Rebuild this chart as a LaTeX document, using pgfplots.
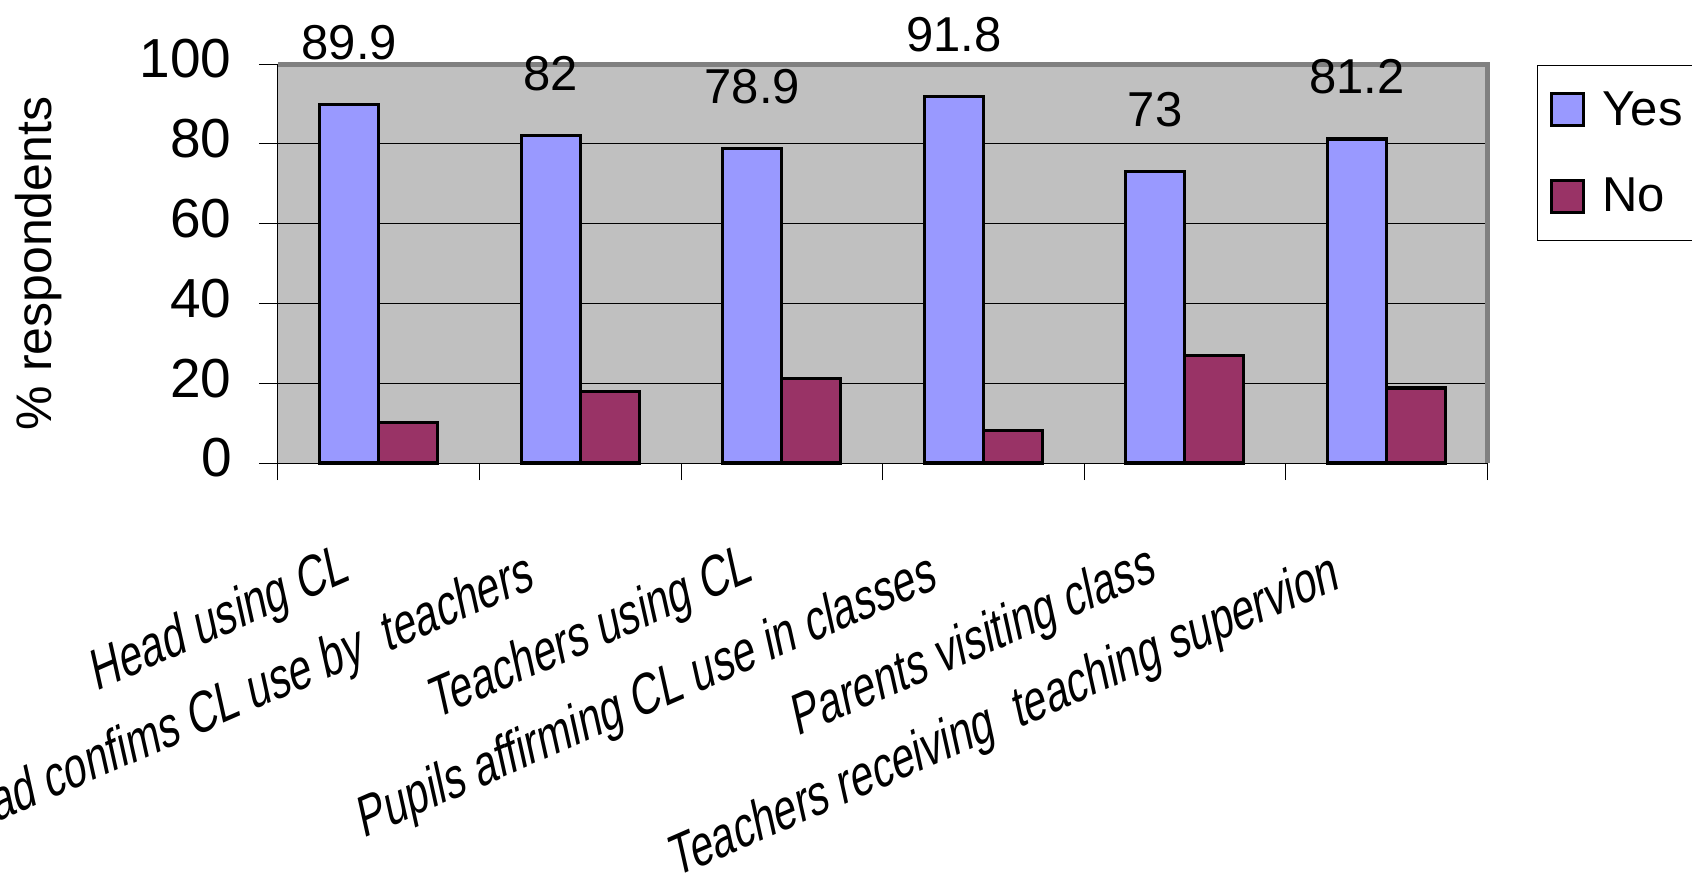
\documentclass[border=0pt]{standalone}
\usepackage{pgfplots}
\pgfplotsset{compat=1.18}
\usepackage{fontspec}
\setmainfont{Liberation Sans}
\definecolor{bggray}{RGB}{192,192,192}
\definecolor{framegray}{RGB}{128,128,128}
\definecolor{yesblue}{RGB}{153,153,255}
\definecolor{nomaroon}{RGB}{153,51,102}
\begin{document}
\begin{tikzpicture}
\path[use as bounding box] (0,0) rectangle (846pt,440pt);
\begin{axis}[
  at={(139pt,208.5pt)}, anchor=south west,
  scale only axis, width=604.5pt, height=199.5pt,
  ybar=0pt, bar width=29.5pt,
  xmin=-0.5, xmax=5.5, ymin=0, ymax=100,
  xtick={0,1,2,3,4,5},
  xticklabels={Head using CL, Head confims CL use by\ \ teachers\hspace*{9.5pt}, Teachers using CL, Pupils affirming CL use in classes\hspace*{9.5pt}, Parents visiting class, Teachers receiving\ \ teaching supervion\hspace*{9.5pt}},
  minor xtick={-0.5,0.5,1.5,2.5,3.5,4.5,5.5},
  ytick={0,20,40,60,80,100},
  tick pos=left, tick align=outside,
  major tick length=9.5pt, minor tick length=8.5pt,
  tick style={black, line width=0.5pt},
  major x tick style={draw=none},
  axis line style={draw=none},
  axis background/.style={fill=bggray},
  ymajorgrids, grid style={black, line width=0.5pt},
  clip=false,
  /pgf/number format/assume math mode=true,
  y tick label style={font=\fontsize{27.5}{31}\selectfont, inner sep=0pt, anchor=east, xshift=-13.5pt, yshift=2.5pt},
  x tick label style={font=\fontsize{21}{24}\selectfont, inner sep=0pt, anchor=base east, xshift=-13.5pt, yshift=-49pt, yscale=1.4, rotate=17.3, xscale=0.96},
  ylabel={\% respondents},
  every axis y label/.style={at={(axis description cs:0,0.5)}, xshift=-119.5pt, rotate=90, anchor=center, font=\fontsize{25}{30}\selectfont},
  legend style={at={(axis description cs:1.0414,0.9975)}, anchor=north west, draw=black, line width=0.5pt, fill=white, font=\fontsize{24.5}{29}\selectfont, inner xsep=6pt, inner ysep=11pt, row sep=21pt, cells={anchor=west}, nodes={inner xsep=9pt}},
  legend image code/.code={\draw[#1, line width=1.5pt] (0pt,-8pt) rectangle (16pt,8pt);},
]
\addplot[draw=black, line width=1.6pt, fill=yesblue,
  nodes near coords,
  nodes near coords style={font=\fontsize{24.5}{29}\selectfont, anchor=center, yshift=31pt, text=black}]
  coordinates {(0,89.9) (1,82) (2,78.9) (3,91.8) (4,73) (5,81.2)};
\addlegendentry{Yes\hspace*{20pt}}
\addplot[draw=black, line width=1.6pt, fill=nomaroon]
  coordinates {(0,10.1) (1,18) (2,21.1) (3,8.2) (4,27) (5,18.8)};
\addlegendentry{No}
\draw[black, line width=0.5pt] (rel axis cs:0,1) -- (rel axis cs:0,0) -- (rel axis cs:1,0);
\draw[framegray, line width=2.5pt] (rel axis cs:0,1) -- (rel axis cs:1,1) -- (rel axis cs:1,0);
\end{axis}
\end{tikzpicture}
\end{document}
